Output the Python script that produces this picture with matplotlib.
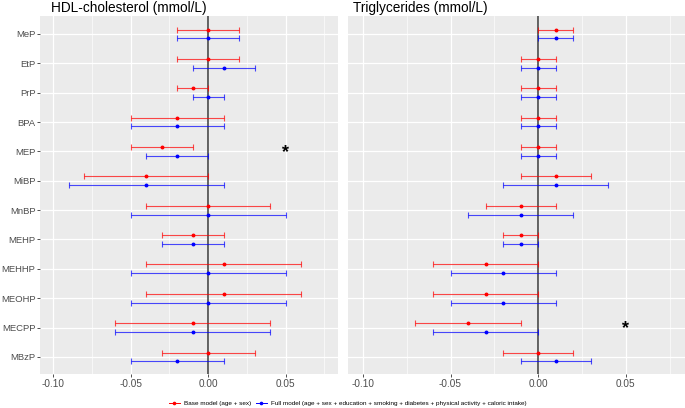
import numpy as np
import matplotlib.pyplot as plt

plt.rcParams['font.family'] = ['Liberation Sans', 'DejaVu Sans']
plt.rcParams['axes.unicode_minus'] = False

metabolites = ["MeP", "EtP", "PrP", "BPA", "MEP", "MiBP", "MnBP",
               "MEHP", "MEHHP", "MEOHP", "MECPP", "MBzP"]

# HDL-cholesterol, base model (age + sex)
hdl_base = [0.00, 0.00, -0.01, -0.02, -0.03, -0.04, 0.00, -0.01, 0.01, 0.01, -0.01, 0.00]
hdl_base_lo = [-0.02, -0.02, -0.02, -0.05, -0.05, -0.08, -0.04, -0.03, -0.04, -0.04, -0.06, -0.03]
hdl_base_hi = [0.02, 0.02, 0.00, 0.01, -0.01, 0.00, 0.04, 0.01, 0.06, 0.06, 0.04, 0.03]
# HDL-cholesterol, full model
hdl_full = [0.00, 0.01, 0.00, -0.02, -0.02, -0.04, 0.00, -0.01, 0.00, 0.00, -0.01, -0.02]
hdl_full_lo = [-0.02, -0.01, -0.01, -0.05, -0.04, -0.09, -0.05, -0.03, -0.05, -0.05, -0.06, -0.05]
hdl_full_hi = [0.02, 0.03, 0.01, 0.01, 0.00, 0.01, 0.05, 0.01, 0.05, 0.05, 0.04, 0.01]

# Triglycerides, base model
tg_base = [0.01, 0.00, 0.00, 0.00, 0.00, 0.01, -0.01, -0.01, -0.03, -0.03, -0.04, 0.00]
tg_base_lo = [0.00, -0.01, -0.01, -0.01, -0.01, -0.01, -0.03, -0.02, -0.06, -0.06, -0.07, -0.02]
tg_base_hi = [0.02, 0.01, 0.01, 0.01, 0.01, 0.03, 0.01, 0.00, 0.00, 0.00, -0.01, 0.02]
# Triglycerides, full model
tg_full = [0.01, 0.00, 0.00, 0.00, 0.00, 0.01, -0.01, -0.01, -0.02, -0.02, -0.03, 0.01]
tg_full_lo = [0.00, -0.01, -0.01, -0.01, -0.01, -0.02, -0.04, -0.02, -0.05, -0.05, -0.06, -0.01]
tg_full_hi = [0.02, 0.01, 0.01, 0.01, 0.01, 0.04, 0.02, 0.00, 0.01, 0.01, 0.00, 0.03]

hdl_star = "MEP"
tg_star = "MECPP"

ypos = np.arange(len(metabolites), 0, -1)


def draw_panel(ax, base, blo, bhi, full, flo, fhi, star):
    ax.set_facecolor("#EBEBEB")
    for s in ax.spines.values():
        s.set_visible(False)
    ax.set_xlim(-0.1085, 0.0838)
    ax.set_ylim(0.42, 12.61)
    ax.set_xticks([-0.10, -0.05, 0.00, 0.05])
    ax.set_xticklabels(["-0.10", "-0.05", "0.00", "0.05"])
    ax.set_xticks([-0.075, -0.025, 0.025, 0.075], minor=True)
    ax.set_yticks(ypos)
    ax.grid(which="major", color="white", lw=0.9)
    ax.grid(which="minor", axis="x", color="white", lw=0.45)
    ax.set_axisbelow(True)
    ax.tick_params(axis="both", which="major", length=2.2, width=0.6, color="#333333",
                   labelsize=7.2, labelcolor="#4D4D4D", pad=1.5)
    ax.tick_params(axis="y", labelsize=6.8, pad=1)
    ax.tick_params(axis="x", which="minor", length=0)
    ax.axvline(0, color="#3A3A3A", lw=1.1, zorder=1)

    base = np.array(base); full = np.array(full)
    ax.errorbar(base, ypos + 0.15, xerr=[base - np.array(blo), np.array(bhi) - base],
                fmt="none", ecolor="red", elinewidth=0.8, capsize=1.9, capthick=0.8,
                alpha=0.7, zorder=2)
    ax.plot(base, ypos + 0.15, "o", color="red", ms=1.8, zorder=3)
    ax.errorbar(full, ypos - 0.15, xerr=[full - np.array(flo), np.array(fhi) - full],
                fmt="none", ecolor="blue", elinewidth=0.8, capsize=1.9, capthick=0.8,
                alpha=0.7, zorder=2)
    ax.plot(full, ypos - 0.15, "o", color="blue", ms=1.8, zorder=3)

    sy = ypos[metabolites.index(star)]
    ax.text(0.05, sy - 0.05, "*", ha="center", va="center", fontsize=13,
            fontweight="bold", color="black")


fig = plt.figure(figsize=(6.85, 4.08), dpi=100)
H = 408.0
W = 685.0
ax1 = fig.add_axes([40 / W, 34 / H, 298 / W, 358 / H])
ax2 = fig.add_axes([348 / W, 34 / H, 337 / W, 358 / H])

draw_panel(ax1, hdl_base, hdl_base_lo, hdl_base_hi, hdl_full, hdl_full_lo, hdl_full_hi, hdl_star)
ax1.set_yticklabels(metabolites)
draw_panel(ax2, tg_base, tg_base_lo, tg_base_hi, tg_full, tg_full_lo, tg_full_hi, tg_star)
ax2.set_yticklabels([])
ax2.tick_params(axis="y", length=0)

fig.text(51 / W, 1 - 1 / H, "HDL-cholesterol (mmol/L)", ha="left", va="top", fontsize=9.8)
fig.text(353 / W, 1 - 1 / H, "Triglycerides (mmol/L)", ha="left", va="top", fontsize=9.8)

h1 = plt.Line2D([], [], color="red", marker="o", ms=1.6, lw=0.7)
h2 = plt.Line2D([], [], color="blue", marker="o", ms=1.6, lw=0.7)
fig.legend([h1, h2], ["Base model (age + sex)",
                      "Full model (age + sex + education + smoking + diabetes + physical activity + caloric intake)"],
           loc="center", bbox_to_anchor=(348 / W, 1 - 403 / H), ncol=2, frameon=False,
           fontsize=4.6, handlelength=1.6, handletextpad=0.7, columnspacing=0.8)

fig.savefig("out.png", dpi=100)
